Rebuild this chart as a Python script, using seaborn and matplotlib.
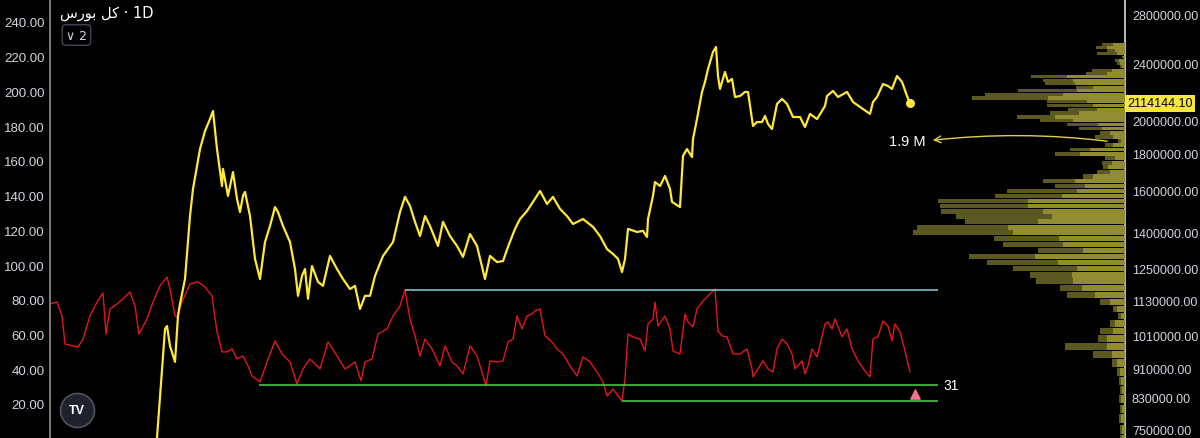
import numpy as np
import pandas as pd
import matplotlib
matplotlib.use("Agg")
import matplotlib.pyplot as plt
import matplotlib.ticker as mticker
import seaborn as sns

# =========================
# Data
# =========================

# index price (yellow, right log axis, millions)
yel_day = [103, 107, 115, 117, 120, 125, 128, 130, 135, 140, 143, 147, 150, 155, 160, 163,
           167, 172, 173, 178, 183, 187, 190, 193, 195, 200, 205, 210, 215, 220, 225, 228,
           233, 240, 245, 248, 252, 255, 258, 262, 268, 273, 280, 287, 293, 300, 305, 310,
           315, 320, 325, 333, 343, 350, 355, 360, 365, 370, 375, 380, 388, 393, 400, 407,
           413, 420, 427, 435, 440, 447, 453, 458, 465, 470, 477, 483, 490, 497, 503, 510,
           517, 523, 533, 543, 550, 557, 563, 568, 572, 575, 578, 587, 593, 597, 598, 603,
           605, 610, 615, 620, 622, 630, 633, 637, 642, 643, 647, 652, 655, 658, 663, 666,
           668, 670, 675, 678, 682, 685, 690, 695, 698, 703, 707, 712, 715, 718, 722, 727,
           732, 737, 743, 750, 755, 760, 767, 775, 777, 783, 788, 797, 803, 813, 820, 823,
           827, 833, 838, 842, 847, 852, 857, 860]
yel_price_m = [0.70, 0.73, 1.031, 1.041, 0.977, 0.929, 1.075, 1.117, 1.209, 1.477, 1.610, 1.732,
               1.828, 1.936, 2.011, 2.063, 1.828, 1.625, 1.716, 1.575, 1.699, 1.560, 1.496, 1.575,
               1.595, 1.477, 1.289, 1.209, 1.360, 1.431, 1.520, 1.496, 1.431, 1.360, 1.248, 1.146,
               1.221, 1.248, 1.135, 1.260, 1.198, 1.183, 1.301, 1.248, 1.209, 1.171, 1.183, 1.099,
               1.146, 1.146, 1.221, 1.301, 1.360, 1.496, 1.570, 1.525, 1.450, 1.386, 1.477, 1.431,
               1.343, 1.450, 1.386, 1.343, 1.297, 1.395, 1.343, 1.209, 1.301, 1.276, 1.280, 1.339,
               1.418, 1.463, 1.501, 1.545, 1.600, 1.535, 1.570, 1.511, 1.477, 1.440, 1.463, 1.427,
               1.386, 1.330, 1.309, 1.289, 1.236, 1.289, 1.418, 1.404, 1.409, 1.382, 1.463, 1.575,
               1.646, 1.625, 1.678, 1.610, 1.545, 1.520, 1.788, 1.828, 1.782, 1.887, 2.011, 2.192,
               2.263, 2.358, 2.489, 2.529, 2.306, 2.213, 2.336, 2.263, 2.284, 2.157, 2.164, 2.192,
               2.192, 1.967, 1.992, 1.992, 2.031, 1.980, 1.948, 2.110, 2.144, 2.110, 2.024, 2.024,
               1.961, 2.044, 2.011, 2.096, 2.164, 2.199, 2.157, 2.192, 2.123, 2.076, 2.044, 2.123,
               2.157, 2.248, 2.234, 2.213, 2.306, 2.263, 2.164, 2.114144]

# oscillator (red, left axis)
red_day = [0, 7, 12, 15, 23, 28, 33, 40, 47, 53, 56, 60, 67, 73, 80, 85, 89, 97, 103, 110,
           117, 120, 125, 127, 132, 140, 148, 155, 162, 167, 172, 177, 182, 187, 193, 198, 202,
           210, 217, 225, 232, 240, 247, 253, 260, 270, 278, 287, 295, 305, 311, 315, 322, 328,
           337, 343, 350, 355, 360, 365, 370, 375, 382, 390, 395, 402, 407, 413, 420, 427, 432,
           436, 440, 447, 453, 458, 463, 467, 472, 477, 482, 485, 490, 495, 502, 507, 513, 520,
           527, 533, 540, 547, 553, 557, 563, 572, 575, 578, 583, 590, 595, 598, 603, 605, 608,
           615, 620, 623, 630, 635, 638, 643, 647, 653, 660, 665, 668, 672, 677, 683, 690, 697,
           702, 703, 708, 713, 718, 723, 727, 732, 737, 742, 745, 752, 755, 758, 762, 767, 775,
           778, 782, 785, 792, 797, 802, 808, 815, 820, 823, 828, 833, 838, 842, 845, 850, 855,
           860]
red_val = [77.6, 78.7, 70.7, 54.6, 53.4, 52.8, 57.4, 70.7, 78.7, 83.9, 60.3, 74.7, 77.6, 80.5,
           84.5, 76.4, 60.3, 69.0, 78.7, 88.0, 93.1, 86.2, 70.7, 70.1, 78.7, 89.1, 90.3, 87.4,
           82.2, 61.5, 50.0, 50.0, 51.7, 45.9, 47.6, 41.9, 36.1, 32.7, 44.2, 56.3, 48.8, 44.2,
           31.5, 40.2, 45.9, 40.2, 55.7, 47.6, 40.2, 44.2, 33.3, 44.2, 45.9, 60.3, 63.2, 70.7,
           76.4, 85.7, 69.0, 59.2, 47.6, 57.4, 51.7, 41.9, 53.4, 44.2, 41.9, 37.3, 53.4, 47.6,
           38.4, 30.4, 44.8, 44.2, 44.8, 55.7, 57.4, 70.7, 63.2, 70.7, 71.8, 73.6, 74.7, 59.2,
           55.7, 51.7, 48.8, 41.9, 36.1, 47.1, 44.2, 38.4, 32.7, 24.6, 28.6, 21.7, 34.5, 60.3,
           58.6, 57.4, 50.5, 66.1, 69.0, 78.7, 64.9, 70.7, 63.2, 50.5, 48.8, 71.8, 67.2, 64.4,
           74.7, 79.3, 83.4, 86.2, 62.1, 59.2, 58.6, 48.8, 48.8, 51.7, 40.2, 35.6, 40.2, 44.8,
           40.2, 38.4, 51.7, 57.4, 54.6, 48.8, 40.2, 44.8, 37.3, 41.9, 51.7, 47.1, 66.1, 67.2,
           63.2, 69.0, 58.6, 63.2, 51.7, 44.8, 39.0, 35.6, 57.4, 58.6, 67.8, 64.9, 56.3, 66.1,
           61.5, 50.5, 38.4]

# drawn levels on the oscillator
level_val = [85.7, 31.0, 21.7]
level_start = [355, 209, 572]
level_end = 888
level_color = ["#7fd3dc", "#4cd64c", "#4cd64c"]
signal_day = [865]
signal_val = [25.8]

# volume profile rows (price in thousands), up / down volume
vp_price_k = [2550, 2525, 2500, 2475, 2450, 2425, 2400, 2375, 2350, 2325, 2300, 2275, 2250,
              2225, 2200, 2175, 2150, 2125, 2100, 2075, 2050, 2025, 2000, 1975, 1950, 1925,
              1900, 1875, 1850, 1825, 1800, 1775, 1750, 1725, 1700, 1675, 1650, 1625, 1600,
              1575, 1550, 1525, 1500, 1475, 1450, 1425, 1400, 1375, 1350, 1325, 1300, 1275,
              1250, 1225, 1200, 1175, 1150, 1125, 1100, 1075, 1050, 1025, 1000, 975, 950, 925,
              900, 875, 850, 825, 800, 775, 750, 725]
vp_up = [12, 18, 10, 8, 2, 6, 5, 3, 13, 18, 58, 52, 50, 32, 48, 62, 77, 38, 32, 28, 46, 70,
         52, 27, 23, 15, 12, 4, 12, 35, 45, 10, 13, 17, 15, 32, 50, 40, 48, 63, 97, 97, 82, 73,
         87, 117, 112, 66, 62, 42, 90, 67, 48, 53, 52, 43, 30, 15, 8, 4, 10, 12, 18, 18, 13, 8,
         5, 4, 3, 4, 3, 4, 3, 3]
vp_down = [11, 11, 8, 20, 1, 4, 3, 2, 20, 21, 36, 30, 30, 17, 59, 78, 76, 40, 46, 29, 29, 38,
           33, 31, 23, 10, 18, 3, 8, 20, 25, 10, 10, 5, 13, 10, 32, 30, 70, 67, 90, 88, 102, 96,
           73, 91, 100, 65, 60, 45, 66, 71, 64, 42, 37, 22, 28, 10, 4, 3, 5, 13, 9, 42, 19, 5,
           3, 2, 2, 2, 2, 2, 2, 2]

left_ticks = [20, 40, 60, 80, 100, 120, 140, 160, 180, 200, 220, 240]
right_ticks = [2800000, 2400000, 2000000, 1800000, 1600000, 1400000, 1250000, 1130000,
               1010000, 910000, 830000, 750000]
last_price = 2114144.10

yel_df = pd.DataFrame({"day": yel_day, "price": np.array(yel_price_m) * 1e6})
red_df = pd.DataFrame({"day": red_day, "value": red_val})
vp_df = pd.DataFrame({"price": np.array(vp_price_k) * 1000, "up": vp_up, "down": vp_down})

# =========================
# Figure
# =========================

sns.set_theme(style="dark")
plt.rcParams['font.family'] = ['Liberation Sans', 'DejaVu Sans']
txt = "#d1d4dc"

fig = plt.figure(figsize=(12, 4.39), dpi=100, facecolor="black")
ax = fig.add_axes([50 / 1200, 0, 1075 / 1200, 1])
ax.set_facecolor("black")

# oscillator on left axis
sns.lineplot(data=red_df, x="day", y="value", ax=ax, color="#e3161b", lw=1.0)
ax.hlines(level_val, level_start, level_end, colors=level_color, lw=1.1)
ax.scatter(signal_day, signal_val, marker="^", s=45, color="#f2708c", zorder=5)
ax.text(level_end + 5, level_val[1], "31", color="white", fontsize=10, va="center")

ax.set_xlim(0, 1075)
ax.set_ylim(0.4, 253.2)
ax.set_yticks(left_ticks)
ax.yaxis.set_major_formatter(mticker.StrMethodFormatter("{x:.2f}"))
ax.tick_params(axis="y", colors=txt, labelsize=9.5, length=0, pad=4)
ax.set_xticks([])
ax.set_xlabel("")
ax.set_ylabel("")
ax.grid(False)
for s in ["top", "bottom", "right"]:
    ax.spines[s].set_visible(False)
ax.spines["left"].set_color("#8a8a8a")

# TradingView badge
ax.scatter([0.0251], [0.064], transform=ax.transAxes, s=600, facecolor="#1e222d",
           edgecolor="#50535e", lw=1.2, zorder=6)
ax.text(0.0251, 0.064, "TV", transform=ax.transAxes, color="white", fontsize=9,
        fontweight="bold", ha="center", va="center", zorder=7)

# price on right log axis
ax2 = ax.twinx()
sns.lineplot(data=yel_df, x="day", y="price", ax=ax2, color="#ffe83a", lw=1.6)
ax2.scatter(yel_day[-1:], [last_price], s=30, color="#ffe83a", zorder=5)
ax2.set_yscale("log")
ax2.set_ylim(729100, 2946000)
ax2.set_yticks(right_ticks)
ax2.yaxis.set_major_formatter(mticker.StrMethodFormatter("{x:.2f}"))
ax2.yaxis.set_minor_locator(mticker.NullLocator())
ax2.tick_params(axis="y", colors=txt, labelsize=9, length=0, pad=5)
ax2.set_xlim(0, 1075)
ax2.set_xlabel("")
ax2.set_ylabel("")
ax2.grid(False)
for s in ["top", "bottom", "left"]:
    ax2.spines[s].set_visible(False)
ax2.spines["right"].set_color("#d0d0d0")

ax2.text(1.002, last_price, "2114144.10", transform=ax2.get_yaxis_transform(),
         color="black", fontsize=9, ha="left", va="center",
         bbox=dict(boxstyle="square,pad=0.2", fc="#f7e63e", ec="none"))

# volume profile, anchored at the right edge
ax3 = ax2.twiny()
ax3.barh(vp_df["price"], vp_df["up"], height=22000, left=0, color="#918b32", lw=0)
ax3.barh(vp_df["price"], vp_df["down"], height=22000, left=vp_df["up"], color="#5c5822", lw=0)
ax3.set_xlim(1075, 0)
ax3.set_xticks([])
ax3.grid(False)
for s in ax3.spines.values():
    s.set_visible(False)

ax3.text(876, 1.876e6, "1.9 M", transform=ax2.transData, color="white", fontsize=10.5,
         ha="right", va="center")
ax3.annotate("", xy=(880, 1.878e6), xytext=(1060, 1.872e6),
             xycoords=ax2.transData, textcoords=ax2.transData,
             arrowprops=dict(arrowstyle="->", color="#e0cf4a", lw=1.0,
                             connectionstyle="arc3,rad=0.06"))

# header
fig.text(60 / 1200, 1 - 13 / 439, "ﺱﺭﻮﺑ ﻞﮐ · 1D", color="white", fontsize=10.5,
         va="center", family=["DejaVu Sans"])
fig.text(66 / 1200, 1 - 36 / 439, "∨ 2", color=txt, fontsize=9, va="center",
         family=["DejaVu Sans"],
         bbox=dict(boxstyle="round,pad=0.3", fc="black", ec="#434651"))

fig.savefig("out.png", dpi=100, facecolor="black")
